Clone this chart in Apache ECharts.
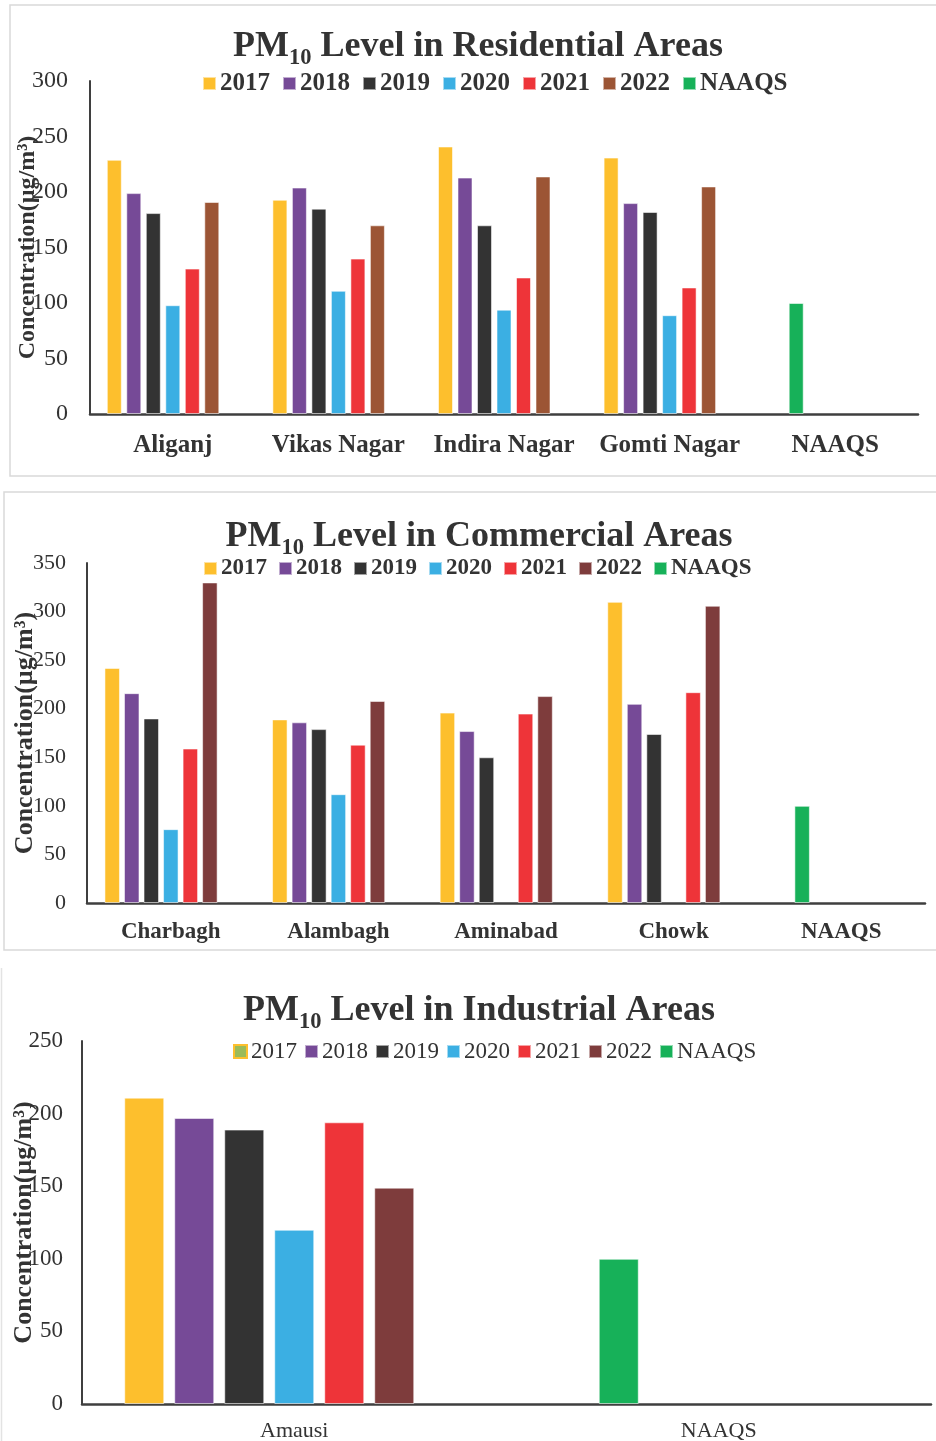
<!DOCTYPE html>
<html>
<head>
<meta charset="utf-8">
<script src="https://cdn.jsdelivr.net/npm/echarts@6/dist/echarts.min.js"></script>
<style>
  html, body { margin: 0; padding: 0; background: #ffffff; }
  .panel { position: absolute; left: 0; width: 936px; }
</style>
</head>
<body>
<div id="res" class="panel" style="top:0;height:480px"></div>
<div id="com" class="panel" style="top:480px;height:480px"></div>
<div id="ind" class="panel" style="top:960px;height:481px"></div>
<script>
// PM10 concentrations (µg/m³) in Lucknow, 2017–2022, against the NAAQS limit
const years = ['2017', '2018', '2019', '2020', '2021', '2022'];

// Residential areas
const resCategories = ['Aliganj', 'Vikas Nagar', 'Indira Nagar', 'Gomti Nagar', 'NAAQS'];
const res2017 = [229, 193, 241, 231, null];
const res2018 = [199, 204, 213, 190, null];
const res2019 = [181, 185, 170, 182, null];
const res2020 = [98, 111, 94, 89, null];
const res2021 = [131, 140, 123, 114, null];
const res2022 = [191, 170, 214, 205, null];
const resNaaqs = [null, null, null, null, 100];
const resTicks = { min: 0, max: 300, interval: 50 };

// Commercial areas (no 2020 readings at Aminabad and Chowk)
const comCategories = ['Charbagh', 'Alambagh', 'Aminabad', 'Chowk', 'NAAQS'];
const com2017 = [242, 189, 196, 310, null];
const com2018 = [216, 186, 177, 205, null];
const com2019 = [190, 179, 150, 174, null];
const com2020 = [76, 112, null, null, null];
const com2021 = [159, 163, 195, 217, null];
const com2022 = [330, 208, 213, 306, null];
const comNaaqs = [null, null, null, null, 100];
const comTicks = { min: 0, max: 350, interval: 50 };

// Industrial area
const indCategories = ['Amausi', 'NAAQS'];
const ind2017 = [211, null];
const ind2018 = [197, null];
const ind2019 = [189, null];
const ind2020 = [120, null];
const ind2021 = [194, null];
const ind2022 = [149, null];
const indNaaqs = [null, 100];
const indTicks = { min: 0, max: 250, interval: 50 };

const FONT = '"Liberation Serif", "Times New Roman", serif';
const INK = '#333333';
const AXIS = '#3f3f3f';
const GREEN = '#17B159';
const yearColorsA = ['#FDBF2D', '#764A97', '#333333', '#3BAFE3', '#EE3439', '#9C5535'];
const yearColorsB = ['#FDBF2D', '#764A97', '#333333', '#3BAFE3', '#EE3439', '#7E3C3C'];

function buildSeries(yearData, naaqs, colors, barWidth, barGap) {
  const common = { type: 'bar', barWidth: barWidth, barGap: barGap };
  const list = years.map((y, i) => Object.assign({}, common, {
    name: y,
    stack: 'slot' + i,
    data: yearData[i],
    itemStyle: { color: colors[i], borderColor: 'rgba(255,255,255,0.55)', borderWidth: 1 }
  }));
  // the standard is drawn in the second slot of its own cluster
  list.push(Object.assign({}, common, {
    name: 'NAAQS',
    stack: 'slot1',
    data: naaqs,
    itemStyle: { color: GREEN, borderColor: 'rgba(255,255,255,0.55)', borderWidth: 1 }
  }));
  // empty series that keeps a seventh slot open in every cluster
  list.push(Object.assign({}, common, {
    name: 'NAAQS',
    stack: 'slot6',
    silent: true,
    data: naaqs.map(() => null),
    itemStyle: { color: GREEN }
  }));
  return list;
}

function buildOption(c) {
  return {
    animation: false,
    backgroundColor: '#ffffff',
    graphic: c.frame,
    title: {
      text: '{m|PM}{s|10}{m| ' + c.title + '}',
      left: c.titleX,
      textAlign: 'center',
      top: c.titleTop,
      textStyle: {
        rich: {
          m: { fontFamily: FONT, fontWeight: 'bold', fontSize: 36, color: INK, lineHeight: 46, verticalAlign: 'middle' },
          s: { fontFamily: FONT, fontWeight: 'bold', fontSize: 22.5, color: INK, lineHeight: 22, verticalAlign: 'bottom' }
        }
      }
    },
    legend: {
      left: c.legendLeft,
      top: c.legendTop,
      icon: 'rect',
      itemWidth: 13,
      itemHeight: 13,
      itemGap: c.legendGap,
      selectedMode: false,
      data: c.legendData,
      textStyle: { fontFamily: FONT, fontWeight: c.legendWeight, fontSize: c.legendSize, color: INK, padding: [0, 0, 0, -1] }
    },
    grid: Object.assign({ outerBoundsMode: 'none', containLabel: false }, c.grid),
    xAxis: {
      type: 'category',
      data: c.categories,
      axisLine: { show: true, lineStyle: { color: AXIS, width: 2.5 } },
      axisTick: { show: false },
      axisLabel: { interval: 0, margin: c.xMargin, fontFamily: FONT, fontWeight: c.xWeight, fontSize: c.xSize, color: INK }
    },
    yAxis: {
      type: 'value',
      min: c.ticks.min,
      max: c.ticks.max,
      interval: c.ticks.interval,
      name: 'Concentration(µg/m³)',
      nameLocation: 'middle',
      nameRotate: 90,
      nameGap: c.nameGap,
      nameMoveOverlap: false,
      nameTextStyle: { fontFamily: FONT, fontWeight: 'bold', fontSize: c.nameSize, color: INK },
      splitLine: { show: false },
      axisTick: { show: false },
      axisLine: { show: true, lineStyle: { color: AXIS, width: 2 } },
      axisLabel: { margin: c.yMargin, fontFamily: FONT, fontSize: c.ySize, color: INK }
    },
    series: buildSeries(c.values, c.naaqs, c.colors, c.barWidth, c.barGap)
  };
}

function legendItems(colors, firstSwatch) {
  const items = years.map((y, i) => ({ name: y, itemStyle: { color: colors[i] } }));
  if (firstSwatch) items[0].itemStyle = firstSwatch;
  items.push({ name: 'NAAQS', itemStyle: { color: GREEN } });
  return items;
}

const panels = [
  {
    el: 'res',
    title: 'Level in Residential Areas',
    titleX: 473, titleTop: 19,
    frame: [{ type: 'rect', shape: { x: 10, y: 5, width: 940, height: 471 }, style: { fill: 'none', stroke: '#d9d9d9', lineWidth: 1.5 }, silent: true }],
    legendLeft: 197, legendTop: 66, legendGap: 12, legendSize: 25, legendWeight: 'bold',
    legendData: legendItems(yearColorsA),
    grid: { left: 90, right: 18, top: 81, bottom: 66 },
    categories: resCategories,
    xMargin: 19, xSize: 25, xWeight: 'bold',
    ticks: resTicks, yMargin: 22, ySize: 24,
    nameGap: 50, nameSize: 24,
    values: [res2017, res2018, res2019, res2020, res2021, res2022],
    naaqs: resNaaqs, colors: yearColorsA, barWidth: 15, barGap: '30%'
  },
  {
    el: 'com',
    title: 'Level in Commercial Areas',
    titleX: 474, titleTop: 29,
    frame: [{ type: 'rect', shape: { x: 4, y: 12, width: 950, height: 458 }, style: { fill: 'none', stroke: '#d9d9d9', lineWidth: 1.5 }, silent: true }],
    legendLeft: 198, legendTop: 72, legendGap: 11, legendSize: 23, legendWeight: 'bold',
    legendData: legendItems(yearColorsB),
    grid: { left: 87, right: 11, top: 83, bottom: 57 },
    categories: comCategories,
    xMargin: 18, xSize: 23, xWeight: 'bold',
    ticks: comTicks, yMargin: 21, ySize: 22,
    nameGap: 49, nameSize: 26,
    values: [com2017, com2018, com2019, com2020, com2021, com2022],
    naaqs: comNaaqs, colors: yearColorsB, barWidth: 15.5, barGap: '26%'
  },
  {
    el: 'ind',
    title: 'Level in Industrial Areas',
    titleX: 474, titleTop: 23,
    frame: [{ type: 'line', shape: { x1: 1.5, y1: 8, x2: 1.5, y2: 490 }, style: { stroke: '#e3e3e3', lineWidth: 1.5 }, silent: true }],
    legendLeft: 228, legendTop: 75, legendGap: 7, legendSize: 23, legendWeight: 'normal',
    legendData: legendItems(yearColorsB, { color: '#9BBB59', borderColor: '#FDBF2D', borderWidth: 2 }),
    grid: { left: 82, right: 5, top: 81, bottom: 37 },
    categories: indCategories,
    xMargin: 16, xSize: 22, xWeight: 'normal',
    ticks: indTicks, yMargin: 19, ySize: 23,
    nameGap: 45, nameSize: 26,
    values: [ind2017, ind2018, ind2019, ind2020, ind2021, ind2022],
    naaqs: indNaaqs, colors: yearColorsB, barWidth: 40, barGap: '25%'
  }
];

panels.forEach(p => {
  const chart = echarts.init(document.getElementById(p.el), null, { renderer: 'canvas' });
  chart.setOption(buildOption(p));
});
</script>
</body>
</html>
